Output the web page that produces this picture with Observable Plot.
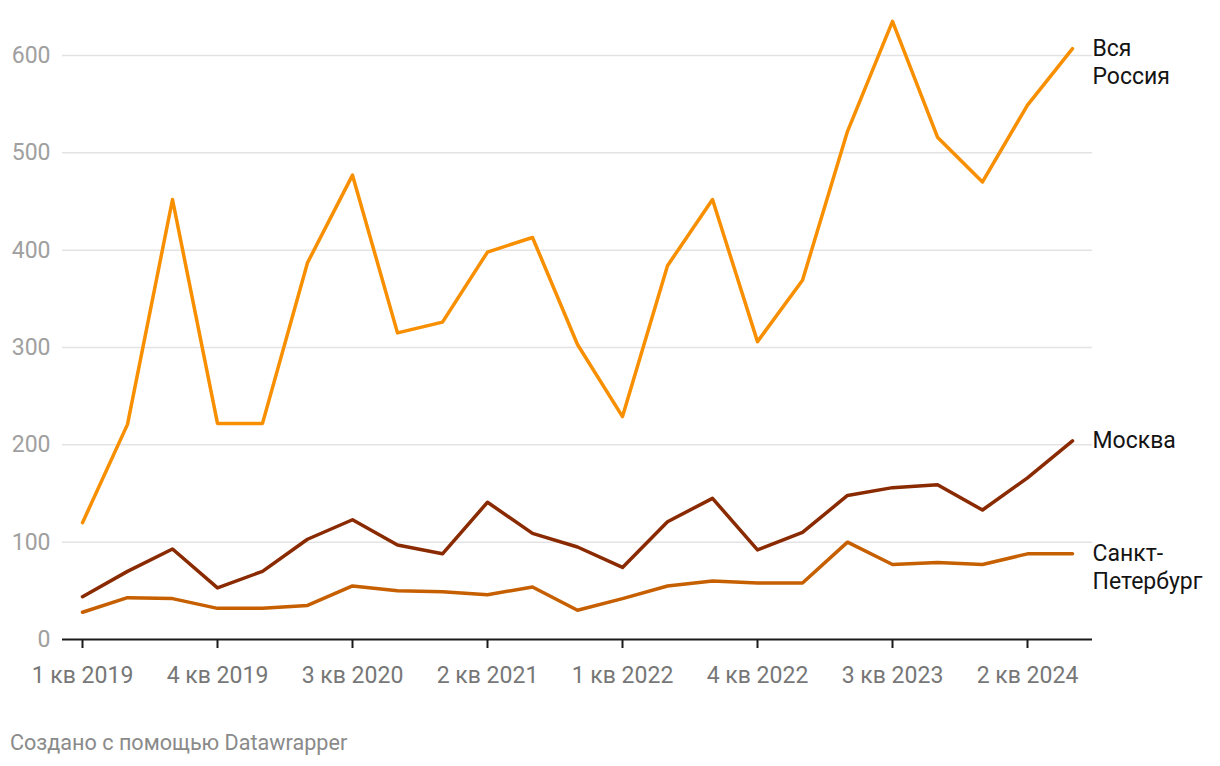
<!DOCTYPE html>
<html>
<head>
<meta charset="utf-8">
<script src="https://cdn.jsdelivr.net/npm/d3@7"></script>
<script src="https://cdn.jsdelivr.net/npm/@observablehq/plot@0.6"></script>
<style>
  body { margin: 0; background: #fff; font-family: Roboto, sans-serif; }
  #caption { margin: 30px 0 0 10px; font-size: 21.6px; line-height: 1.2; color: #8a8a8a; }
</style>
</head>
<body>
<div id="chart"></div>
<div id="caption">Создано с помощью Datawrapper</div>
<script>
const quarters = ["1 кв 2019","2 кв 2019","3 кв 2019","4 кв 2019","1 кв 2020","2 кв 2020","3 кв 2020","4 кв 2020","1 кв 2021","2 кв 2021","3 кв 2021","4 кв 2021","1 кв 2022","2 кв 2022","3 кв 2022","4 кв 2022","1 кв 2023","2 кв 2023","3 кв 2023","4 кв 2023","1 кв 2024","2 кв 2024","3 кв 2024"];
const russia = [120,221,452,222,222,387,477,315,326,398,413,303,229,384,452,306,369,522,635,516,470,549,607];
const moscow = [44,70,93,53,70,103,123,97,88,141,109,95,74,121,145,92,110,148,156,159,133,166,204];
const spb = [28,43,42,32,32,35,55,50,49,46,54,30,42,55,60,58,58,100,77,79,77,88,88];
const seriesNames = ["Вся Россия","Москва","Санкт-Петербург"];
const seriesLabels = ["Вся\nРоссия","Москва","Санкт-\nПетербург"];
const seriesColors = ["#f78f00","#8a2a00","#c65f00"];
const yTicks = [0,100,200,300,400,500,600];
const xTickIdx = [0,3,6,9,12,15,18,21];

const values = [russia, moscow, spb];
const data = [];
seriesNames.forEach((s, k) => values[k].forEach((v, i) => data.push({series: s, i, v})));
const n = quarters.length;
const last = seriesNames.map((s, k) => ({series: s, label: seriesLabels[k], i: n - 1, v: values[k][n - 1]}));
const lastMulti = last.filter(d => d.label.includes("\n"));
const lastSingle = last.filter(d => !d.label.includes("\n"));
const x0 = -20/45;

const chart = Plot.plot({
  width: 1220,
  height: 700,
  marginLeft: 62,
  marginRight: 128,
  marginTop: 16,
  marginBottom: 61,
  style: {fontFamily: "Roboto, sans-serif", fontSize: "23px", background: "#fff", overflow: "visible"},
  x: {domain: [x0, n - 1 + 20/45], axis: null},
  y: {domain: [0, 640], axis: null},
  color: {domain: seriesNames, range: seriesColors},
  marks: [
    Plot.ruleY(yTicks.filter(d => d > 0), {stroke: "#e3e3e3", strokeWidth: 1.5}),
    Plot.text(yTicks, {x: x0, y: d => d, text: d => String(d), textAnchor: "end", dx: -12, fill: "#a0a0a0", fontSize: 23}),
    Plot.ruleY([0], {stroke: "#1a1a1a", strokeWidth: 2}),
    Plot.ruleX(xTickIdx, {x: d => d, y1: 0, y2: 0, insetBottom: -9, stroke: "#1a1a1a", strokeWidth: 2}),
    Plot.text(xTickIdx, {x: d => d, y: 0, text: d => quarters[d], dy: 36, fill: "#777777", fontSize: 23}),
    Plot.line(data, {x: "i", y: "v", z: "series", stroke: "series", strokeWidth: 3.5, strokeLinejoin: "round", strokeLinecap: "round"}),
    Plot.text(lastMulti, {x: "i", y: "v", text: "label", fill: "#141414", textAnchor: "start", dx: 20, dy: -13, fontSize: 23, lineHeight: 1.22, lineAnchor: "top"}),
    Plot.text(lastSingle, {x: "i", y: "v", text: "label", fill: "#141414", textAnchor: "start", dx: 20, fontSize: 23, lineAnchor: "middle"})
  ]
});
document.getElementById("chart").appendChild(chart);
</script>
</body>
</html>
